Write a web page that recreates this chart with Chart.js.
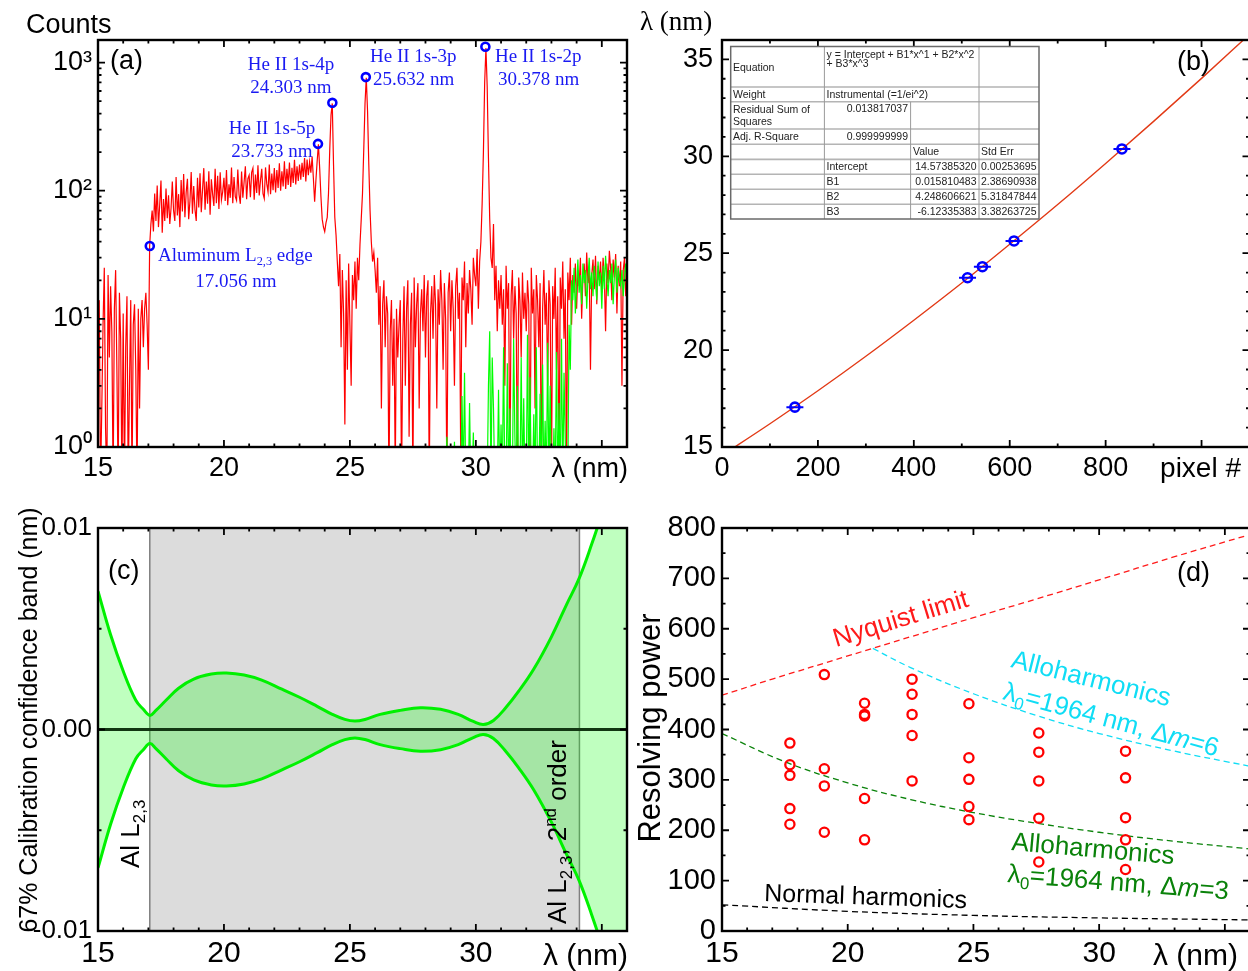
<!DOCTYPE html>
<html>
<head>
<meta charset="utf-8">
<title>Spectrometer calibration</title>
<script src="https://cdn.jsdelivr.net/npm/chart.js@4.4.1/dist/chart.umd.min.js"></script>
<style>
  html, body { margin: 0; padding: 0; background: #fff; }
  body { position: relative; width: 1248px; height: 971px; overflow: hidden; }
  canvas { position: absolute; }
</style>
</head>
<body>
<canvas id="chart-a" width="640" height="495" style="left:0;top:0"></canvas>
<canvas id="chart-b" width="630" height="495" style="left:630px;top:0"></canvas>
<canvas id="chart-c" width="640" height="476" style="left:0;top:495px"></canvas>
<canvas id="chart-d" width="630" height="476" style="left:630px;top:495px"></canvas>
<script>
/* ─── data: (a) spectrum ─── */
const specLambda0 = 15;      // nm, first sample
const specStep = 0.05;       // nm per sample
const redCounts = [
  3, 14, 0.5, 2, 9, 25, 1.4, 0.5, 22, 5, 18, 8, 0.5, 12, 24, 4, 0.5, 16, 7, 0.5,
  11, 0.5, 6, 15, 0.5, 3, 14, 0.5, 9, 13, 4, 0.5, 12, 2, 10, 14, 6, 12, 16, 9,
  4, 37, 55, 70, 48, 95, 58, 110, 52, 78, 120, 47, 86, 58, 104, 61, 92, 55, 73, 118,
  70, 58, 128, 64, 94, 52, 121, 69, 135, 62, 97, 124, 60, 83, 140, 66, 109, 71, 58, 126,
  74, 137, 68, 102, 150, 71, 118, 79, 142, 65, 123, 94, 76, 148, 80, 131, 72, 139, 85, 98,
  126, 83, 145, 77, 112, 88, 152, 80, 128, 90, 84, 146, 93, 79, 141, 88, 117, 155, 86, 124,
  132, 89, 139, 150, 85, 134, 96, 158, 92, 120, 148, 95, 87, 152, 113, 98, 160, 94, 136, 101,
  150, 97, 145, 105, 164, 100, 142, 108, 170, 103, 148, 111, 166, 107, 151, 115, 174, 112, 155, 119,
  160, 122, 165, 128, 180, 118, 175, 132, 168, 138, 185, 125, 82, 120, 170, 230, 150, 90, 60, 52,
  48, 56, 62, 95, 210, 390, 480, 160, 62, 45, 28, 18, 32, 6, 24, 11, 1.5, 20, 4, 27,
  9, 3, 22, 14, 28, 12, 30, 20, 38, 60, 95, 210, 480, 760, 420, 160, 70, 40, 28, 33,
  24, 16, 30, 9, 18, 2, 13, 20, 6, 15, 11, 0.5, 8, 14, 3, 10, 0.6, 12, 5, 9,
  14, 0.5, 7, 18, 3, 12, 20, 1.2, 9, 16, 0.5, 21, 6, 13, 19, 2, 11, 17, 8, 22,
  5, 15, 20, 0.5, 11, 18, 7, 22, 13, 2, 17, 9, 24, 14, 4, 19, 10, 0.5, 16, 23,
  8, 20, 12, 3, 18, 25, 10, 16, 0.8, 21, 14, 28, 6, 19, 11, 24, 17, 9, 30, 22,
  18, 35, 12, 28, 40, 80, 200, 700, 1300, 650, 180, 60, 30, 25, 55, 14, 26, 8, 20, 12,
  22, 9, 17, 3, 26, 12, 19, 0.5, 15, 24, 7, 18, 11, 0.5, 21, 14, 5, 23, 10, 16,
  8, 20, 13, 0.5, 25, 11, 17, 2, 22, 14, 6, 19, 0.5, 12, 24, 9, 16, 3, 20, 13,
  0.5, 18, 10, 25, 4, 15, 0.5, 21, 12, 28, 7, 17, 0.5, 23, 14, 30, 9, 22, 16, 27,
  12, 24, 18, 30, 10, 21, 27, 15, 33, 19, 25, 4, 22, 29, 17, 31, 13, 26, 20, 28,
  16, 30, 22, 8, 27, 19, 34, 25, 14, 29, 21, 32, 11, 26, 18, 28, 3, 24, 30, 15,
  22,
];
const greenLambda0 = 28.8;
const greenCounts = [
  0.5, 1.2, 0.5, 0.5, 0.8, 0.5, 0.5, 1.1, 0.5, 0.5, 0.5, 0.7, 0.5, 2.5, 0.5, 3.8, 0.5, 1.0, 0.5, 2.2,
  0.5, 0.5, 1.3, 0.5, 0.5, 0.5, 0.6, 0.5, 0.5, 0.5, 0.5, 0.5, 0.5, 0.5, 3.0, 8, 0.5, 5, 2, 0.5,
  0.5, 0.5, 2.8, 0.5, 1.5, 0.5, 6, 0.5, 0.5, 4.5, 0.5, 2, 0.5, 0.5, 7, 1.2, 0.5, 3, 0.5, 0.5,
  5, 0.5, 2.4, 0.5, 0.5, 7.5, 0.5, 3.5, 0.5, 0.5, 1.8, 0.5, 6, 0.5, 0.5, 2.6, 0.5, 4.4, 0.5, 1.6,
  0.5, 6.5, 0.5, 3, 0.5, 0.5, 1.4, 0.5, 5.5, 0.5, 2.2, 0.5, 7, 0.5, 3.8, 1.1, 0.5, 0.5, 9, 4,
  20, 14, 25, 11, 18, 29, 16, 22, 13, 27, 19, 24, 12, 21, 30, 17, 23, 15, 26, 20,
  14, 28, 18, 23, 12, 26, 17, 31, 21, 15, 24, 19, 27, 13, 22, 29, 16, 25, 20, 18,
  24, 15, 21, 27, 19,
];
const lineLambda = [17.056, 23.733, 24.303, 25.632, 30.378];
const lineCounts = [37, 232, 485, 770, 1330];
const aXTicks = [15, 20, 25, 30];
const aYTicks = [1, 10, 100, 1000];

/* ─── data: (b) calibration ─── */
const calPixel = [152, 512, 543, 609, 834];
const calLambda = [17.056, 23.733, 24.303, 25.632, 30.378];
const fitPixel = [0, 100, 200, 300, 400, 500, 600, 700, 800, 900, 1000, 1100];
const fitLambda = [14.57, 16.20, 17.90, 19.68, 21.54, 23.46, 25.46, 27.51, 29.63, 31.80, 34.02, 36.29];
const bXTicks = [0, 200, 400, 600, 800];
const bYTicks = [15, 20, 25, 30, 35];

/* ─── data: (c) confidence band ─── */
const bandLambda = [15, 15.5, 16, 16.5, 16.8, 17.06, 17.3, 17.7, 18.2, 18.8, 19.5, 20.1, 20.8, 21.5, 22.3, 23, 23.7,
  24.3, 24.8, 25.2, 25.6, 26.2, 27, 27.8, 28.6, 29.3, 29.9, 30.3, 30.7, 31.2, 31.7, 32.3, 33, 33.6, 34.1, 34.6, 35, 35.5, 36];
const bandUpper = [0.00687, 0.0047, 0.0029, 0.00145, 0.001, 0.0007, 0.00095, 0.00145, 0.00205, 0.0025, 0.00275, 0.0028,
  0.0027, 0.00245, 0.002, 0.0016, 0.00115, 0.00075, 0.0005, 0.00042, 0.0005, 0.00075, 0.00095, 0.00108, 0.001, 0.00075,
  0.0004, 0.00025, 0.00045, 0.0011, 0.0019, 0.003, 0.0046, 0.0062, 0.0075, 0.0092, 0.0107, 0.0127, 0.0148];
const bandLower = [-0.00687, -0.0047, -0.0029, -0.00145, -0.001, -0.0007, -0.00095, -0.00145, -0.00205, -0.0025, -0.00275, -0.0028,
  -0.0027, -0.00245, -0.002, -0.0016, -0.00115, -0.00075, -0.0005, -0.00042, -0.0005, -0.00075, -0.00095, -0.00108, -0.001, -0.00075,
  -0.0004, -0.00025, -0.00045, -0.0011, -0.0019, -0.003, -0.0046, -0.0062, -0.0075, -0.0092, -0.0107, -0.0127, -0.0148];
const zeroLambda = [15, 36];
const zeroValue = [0, 0];
const alEdge = 17.056;
const alEdge2nd = 34.112;
const cYTicks = [-0.01, 0, 0.01];

/* ─── data: (d) resolving power ─── */
const rpLambda = [17.7, 17.7, 17.7, 17.7, 17.7, 19.07, 19.07, 19.07, 19.07, 20.67, 20.67, 20.67, 20.67, 20.67,
  22.56, 22.56, 22.56, 22.56, 22.56, 24.82, 24.82, 24.82, 24.82, 24.82, 27.6, 27.6, 27.6, 27.6, 27.6,
  31.05, 31.05, 31.05, 31.05, 31.05];
const rpValue = [373, 330, 309, 243, 212, 509, 322, 288, 196, 452, 430, 427, 263, 181,
  500, 470, 430, 388, 298, 451, 344, 301, 247, 221, 393, 355, 298, 224, 137,
  357, 304, 225, 181, 122];
const nyqLambda = [15, 17, 20, 22.5, 25, 27.5, 30, 33, 36];
const nyqR = [468, 500, 546, 584, 622, 659, 697, 743, 787];
const allo6Lambda = [21, 22.5, 25, 27.5, 30, 33, 36];
const allo6R = [561, 523, 471, 428, 392, 357, 327];
const allo3Lambda = [15, 17.5, 20, 22.5, 25, 27.5, 30, 33, 36];
const allo3R = [392, 336, 294, 261, 235, 214, 196, 178, 163];
const normLambda = [15, 20, 25, 30, 36];
const normR = [52, 39, 31, 26, 22];
const dXTicks = [15, 20, 25, 30];
const dYTicks = [0, 100, 200, 300, 400, 500, 600, 700, 800];

/* ─── styling ─── */
const SANS = "'Liberation Sans', Arial, Helvetica, sans-serif";
const SERIF = "'Liberation Serif', 'Times New Roman', serif";
const BLUE = '#0000FF';
const LABEL_BLUE = '#1a1af2';
const CYAN = '#10DDF5';
const DKGREEN = '#0A820A';
const SUP = ['\u2070', '\u00B9', '\u00B2', '\u00B3'];

Chart.defaults.font.family = SANS;
Chart.defaults.font.size = 27;
Chart.defaults.color = '#000';
Chart.defaults.animation = false;
Chart.defaults.plugins.legend.display = false;
Chart.defaults.plugins.tooltip.enabled = false;

const range = (a, b, s) => {
  const out = [];
  for (let v = a; v <= b + 1e-9; v += s) out.push(+v.toFixed(6));
  return out;
};
const pts = (xs, ys) => xs.map((x, i) => ({ x, y: ys[i] }));

function xAxis(min, max, labels, height, pad, size, fmt) {
  return {
    type: 'linear', min, max,
    grid: { display: false, drawTicks: false }, border: { display: false },
    ticks: { padding: pad, maxRotation: 0, autoSkip: false, font: { size }, callback: fmt || (v => String(v)) },
    afterBuildTicks: s => { s.ticks = labels.map(value => ({ value })); },
    afterFit: s => { s.height = height; },
  };
}
function yAxis(type, min, max, labels, width, pad, size, fmt) {
  return {
    type, min, max,
    grid: { display: false, drawTicks: false }, border: { display: false },
    ticks: { padding: pad, autoSkip: false, font: { size }, callback: fmt || (v => String(v)) },
    afterBuildTicks: s => { s.ticks = labels.map(value => ({ value })); },
    afterFit: s => { s.width = width; },
  };
}

/* frame with inward ticks on all four sides */
function makeFrame(o) {
  return {
    id: 'frame',
    afterDatasetsDraw(chart) {
      const { ctx, chartArea: a, scales: { x, y } } = chart;
      ctx.save();
      ctx.strokeStyle = '#000';
      ctx.lineWidth = 1.8;
      ctx.beginPath();
      for (const [vals, len] of [[o.xMajor, 7], [o.xMinor, 3.5]]) {
        for (const v of vals) {
          const px = x.getPixelForValue(v);
          if (px < a.left - 0.5 || px > a.right + 0.5) continue;
          ctx.moveTo(px, a.bottom); ctx.lineTo(px, a.bottom - len);
          ctx.moveTo(px, a.top); ctx.lineTo(px, a.top + len);
        }
      }
      for (const [vals, len] of [[o.yMajor, 7], [o.yMinor, 3.5]]) {
        for (const v of vals) {
          const py = y.getPixelForValue(v);
          if (py < a.top - 0.5 || py > a.bottom + 0.5) continue;
          ctx.moveTo(a.left, py); ctx.lineTo(a.left + len, py);
          ctx.moveTo(a.right, py); ctx.lineTo(a.right - len, py);
        }
      }
      ctx.stroke();
      ctx.lineWidth = 2.4;
      ctx.strokeRect(a.left, a.top, a.width, a.height);
      ctx.restore();
    },
  };
}

/* text with sub/sup/italic parts, page coordinates */
function drawRich(ctx, it) {
  ctx.save();
  ctx.translate(it.x, it.y);
  if (it.r) ctx.rotate(it.r * Math.PI / 180);
  ctx.fillStyle = it.c || '#000';
  ctx.textBaseline = 'alphabetic';
  ctx.textAlign = 'left';
  const fam = it.f || SANS;
  const segs = it.p.map(p => {
    const [s, m] = typeof p === 'string' ? [p, ''] : p;
    const sz = (m === 'sub' || m === 'sup') ? it.s * 0.65 : it.s;
    const font = (m === 'i' ? 'italic ' : '') + sz + 'px ' + fam;
    ctx.font = font;
    const dy = m === 'sub' ? it.s * 0.22 : m === 'sup' ? -it.s * 0.38 : 0;
    return { s, font, dy, w: ctx.measureText(s).width };
  });
  const total = segs.reduce((acc, g) => acc + g.w, 0);
  let cx = it.a === 'center' ? -total / 2 : it.a === 'right' ? -total : 0;
  for (const g of segs) {
    ctx.font = g.font;
    ctx.fillText(g.s, cx, g.dy);
    cx += g.w;
  }
  ctx.restore();
}
function makeText(items, ox, oy) {
  return {
    id: 'texts',
    afterDraw(chart) {
      const ctx = chart.ctx;
      ctx.save();
      ctx.translate(-ox, -oy);
      items.forEach(it => drawRich(ctx, it));
      ctx.restore();
    },
  };
}

/* ─── (a) Counts vs wavelength ─── */
const redData = redCounts.map((c, i) => ({ x: specLambda0 + i * specStep, y: c }));
const greenData = greenCounts.map((c, i) => ({ x: greenLambda0 + i * specStep, y: c }));

new Chart(document.getElementById('chart-a'), {
  type: 'line',
  data: {
    datasets: [
      { data: pts(lineLambda, lineCounts), showLine: false, pointRadius: 4, pointBorderWidth: 2.6,
        pointBorderColor: BLUE, pointBackgroundColor: 'rgba(0,0,0,0)', order: 0 },
      { data: greenData, borderColor: '#00FF00', borderWidth: 1.2, pointRadius: 0, order: 1 },
      { data: redData, borderColor: '#FF0000', borderWidth: 1.2, pointRadius: 0, order: 2 },
    ],
  },
  options: {
    responsive: false,
    layout: { padding: { top: 40, right: 13, left: 0, bottom: 0 } },
    scales: {
      x: xAxis(15, 36, aXTicks, 48, 5, 27),
      y: yAxis('logarithmic', 1, 1500, aYTicks, 98, 6, 27, v => '10' + SUP[Math.round(Math.log10(v))]),
    },
  },
  plugins: [
    makeFrame({
      xMajor: [15, 20, 25, 30, 35], xMinor: range(16, 36, 1),
      yMajor: aYTicks, yMinor: [2, 3, 4, 5, 6, 7, 8, 9, 20, 30, 40, 50, 60, 70, 80, 90, 200, 300, 400, 500, 600, 700, 800, 900],
    }),
    makeText([
      { p: ['Counts'], x: 26, y: 33, s: 27 },
      { p: ['(a)'], x: 110, y: 69, s: 27 },
      { p: ['\u03bb (nm)'], x: 628, y: 477, s: 27, a: 'right' },
      { p: ['He II 1s-4p'], x: 291, y: 70, s: 19, f: SERIF, c: LABEL_BLUE, a: 'center' },
      { p: ['24.303 nm'], x: 291, y: 93, s: 19, f: SERIF, c: LABEL_BLUE, a: 'center' },
      { p: ['He II 1s-5p'], x: 272, y: 134, s: 19, f: SERIF, c: LABEL_BLUE, a: 'center' },
      { p: ['23.733 nm'], x: 272, y: 157, s: 19, f: SERIF, c: LABEL_BLUE, a: 'center' },
      { p: ['He II 1s-3p'], x: 370, y: 62, s: 19, f: SERIF, c: LABEL_BLUE },
      { p: ['25.632 nm'], x: 373, y: 85, s: 19, f: SERIF, c: LABEL_BLUE },
      { p: ['He II 1s-2p'], x: 495, y: 62, s: 19, f: SERIF, c: LABEL_BLUE },
      { p: ['30.378 nm'], x: 498, y: 85, s: 19, f: SERIF, c: LABEL_BLUE },
      { p: ['Aluminum L', ['2,3', 'sub'], ' edge'], x: 158, y: 261, s: 19, f: SERIF, c: LABEL_BLUE },
      { p: ['17.056 nm'], x: 236, y: 287, s: 19, f: SERIF, c: LABEL_BLUE, a: 'center' },
    ], 0, 0),
  ],
});

/* ─── (b) wavelength vs pixel ─── */
const tableItems = [
  ['Equation', 733, 70.5, 'left'],
  ['y = Intercept + B1*x^1 + B2*x^2', 826.5, 57.5, 'left'],
  ['+ B3*x^3', 826.5, 67, 'left'],
  ['Weight', 733, 98, 'left'],
  ['Instrumental (=1/ei^2)', 826.5, 98, 'left'],
  ['Residual Sum of', 733, 113, 'left'],
  ['Squares', 733, 125, 'left'],
  ['0.013817037', 908, 111.5, 'right'],
  ['Adj. R-Square', 733, 140, 'left'],
  ['0.999999999', 908, 140, 'right'],
  ['Value', 913, 154.5, 'left'],
  ['Std Err', 981, 154.5, 'left'],
  ['Intercept', 826.5, 169.5, 'left'],
  ['14.57385320', 976.5, 169.5, 'right'],
  ['0.00253695', 1036.5, 169.5, 'right'],
  ['B1', 826.5, 184.5, 'left'],
  ['0.015810483', 976.5, 184.5, 'right'],
  ['2.38690938', 1036.5, 184.5, 'right'],
  ['B2', 826.5, 199.5, 'left'],
  ['4.248606621', 976.5, 199.5, 'right'],
  ['5.31847844', 1036.5, 199.5, 'right'],
  ['B3', 826.5, 214.5, 'left'],
  ['-6.12335383', 976.5, 214.5, 'right'],
  ['3.38263725', 1036.5, 214.5, 'right'],
];
const fitTable = {
  id: 'fitTable',
  afterDraw(chart) {
    const ctx = chart.ctx;
    const ox = 630;
    const cols = [730.7, 824.4, 910.6, 979, 1039];
    const rows = [46.5, 87, 101.8, 129, 144.2, 159.4, 174.2, 189.3, 204.2, 219];
    ctx.save();
    ctx.translate(-ox, 0);
    ctx.fillStyle = '#fff';
    ctx.fillRect(cols[0], rows[0], cols[4] - cols[0], rows[9] - rows[0]);
    ctx.strokeStyle = '#b4b4b4';
    ctx.lineWidth = 1.6;
    ctx.beginPath();
    rows.slice(1, -1).forEach(r => { ctx.moveTo(cols[0], r); ctx.lineTo(cols[4], r); });
    ctx.stroke();
    ctx.strokeStyle = '#9a9a9a';
    ctx.lineWidth = 1;
    ctx.beginPath();
    ctx.moveTo(cols[1], rows[0]); ctx.lineTo(cols[1], rows[9]);
    ctx.moveTo(cols[2], rows[2]); ctx.lineTo(cols[2], rows[9]);
    ctx.moveTo(cols[3], rows[0]); ctx.lineTo(cols[3], rows[9]);
    ctx.stroke();
    ctx.strokeStyle = '#6a6a6a';
    ctx.lineWidth = 1.5;
    ctx.strokeRect(cols[0], rows[0], cols[4] - cols[0], rows[9] - rows[0]);
    ctx.fillStyle = '#222';
    ctx.font = '10.5px ' + SANS;
    ctx.textBaseline = 'alphabetic';
    tableItems.forEach(([t, x, y, al]) => { ctx.textAlign = al; ctx.fillText(t, x, y); });
    ctx.restore();
  },
};

new Chart(document.getElementById('chart-b'), {
  type: 'line',
  data: {
    datasets: [
      { data: pts(calPixel, calLambda), showLine: false, pointStyle: 'line', pointRadius: 8.5,
        pointBorderWidth: 2, pointBorderColor: BLUE, order: 0 },
      { data: pts(calPixel, calLambda), showLine: false, pointRadius: 4.5, pointBorderWidth: 2.6,
        pointBorderColor: BLUE, pointBackgroundColor: 'rgba(0,0,0,0)', order: 1 },
      { data: pts(fitPixel, fitLambda), borderColor: '#E23A16', borderWidth: 1.4, pointRadius: 0,
        cubicInterpolationMode: 'monotone', order: 2 },
    ],
  },
  options: {
    responsive: false,
    layout: { padding: { top: 40, right: 10, left: 0, bottom: 0 } },
    scales: {
      x: xAxis(0, 1100, bXTicks, 48, 5, 27),
      y: yAxis('linear', 15, 36, bYTicks, 92, 9, 27),
    },
  },
  plugins: [
    makeFrame({ xMajor: range(0, 1000, 200), xMinor: range(100, 1100, 200), yMajor: bYTicks, yMinor: range(16, 36, 1) }),
    makeText([
      { p: ['\u03bb (nm)'], x: 640, y: 30, s: 27, f: SERIF },
      { p: ['(b)'], x: 1177, y: 70, s: 27 },
      { p: ['pixel #'], x: 1241, y: 477, s: 28, a: 'right' },
    ], 630, 0),
    fitTable,
  ],
});

/* ─── (c) calibration confidence band ─── */
const greyBand = {
  id: 'greyBand',
  beforeDatasetsDraw(chart) {
    const { ctx, chartArea: a, scales: { x } } = chart;
    const x1 = x.getPixelForValue(alEdge);
    const x2 = x.getPixelForValue(alEdge2nd);
    ctx.save();
    ctx.fillStyle = '#DCDCDC';
    ctx.fillRect(x1, a.top, x2 - x1, a.height);
    ctx.strokeStyle = '#808080';
    ctx.lineWidth = 1.5;
    ctx.beginPath();
    ctx.moveTo(x1, a.top); ctx.lineTo(x1, a.bottom);
    ctx.moveTo(x2, a.top); ctx.lineTo(x2, a.bottom);
    ctx.stroke();
    ctx.restore();
  },
};

new Chart(document.getElementById('chart-c'), {
  type: 'line',
  data: {
    datasets: [
      { data: pts(bandLambda, bandUpper), borderColor: '#00F000', borderWidth: 3, pointRadius: 0, tension: 0.4,
        fill: '+1', backgroundColor: 'rgba(0,255,0,0.25)', order: 1 },
      { data: pts(bandLambda, bandLower), borderColor: '#00F000', borderWidth: 3, pointRadius: 0, tension: 0.4,
        fill: false, order: 2 },
      { data: pts(zeroLambda, zeroValue), borderColor: '#123612', borderWidth: 3, pointRadius: 0, order: 0 },
    ],
  },
  options: {
    responsive: false,
    layout: { padding: { top: 33, right: 13, left: 0, bottom: 0 } },
    scales: {
      x: xAxis(15, 36, aXTicks, 40, 5, 30),
      y: yAxis('linear', -0.01, 0.01, cYTicks, 98, 6, 26, v => v.toFixed(2)),
    },
  },
  plugins: [
    greyBand,
    makeFrame({ xMajor: [15, 20, 25, 30, 35], xMinor: range(16, 36, 1), yMajor: cYTicks, yMinor: [-0.005, 0.005] }),
    makeText([
      { p: ['(c)'], x: 108, y: 579, s: 27 },
      { p: ['67% Calibration confidence band (nm)'], x: 37, y: 720, s: 25, a: 'center', r: -90 },
      { p: ['Al L', ['2,3', 'sub']], x: 139, y: 868, s: 26, r: -90 },
      { p: ['Al L', ['2,3', 'sub'], ', 2', ['nd', 'sup'], ' order'], x: 566, y: 924, s: 26, r: -90 },
      { p: ['\u03bb (nm)'], x: 628, y: 965, s: 30, a: 'right' },
    ], 0, 495),
  ],
});

/* ─── (d) resolving power ─── */
const dashed = (data, color) => ({
  data, borderColor: color, borderWidth: 1.3, borderDash: [6, 4], pointRadius: 0, tension: 0.4, order: 1,
});

new Chart(document.getElementById('chart-d'), {
  type: 'line',
  data: {
    datasets: [
      { data: pts(rpLambda, rpValue), showLine: false, pointRadius: 4.6, pointBorderWidth: 2.3,
        pointBorderColor: '#FF0000', pointBackgroundColor: 'rgba(0,0,0,0)', order: 0 },
      dashed(pts(nyqLambda, nyqR), '#FF1A1A'),
      dashed(pts(allo6Lambda, allo6R), CYAN),
      dashed(pts(allo3Lambda, allo3R), DKGREEN),
      dashed(pts(normLambda, normR), '#000000'),
    ],
  },
  options: {
    responsive: false,
    layout: { padding: { top: 33, right: 10, left: 0, bottom: 0 } },
    scales: {
      x: xAxis(15, 36, dXTicks, 40, 5, 30),
      y: yAxis('linear', 0, 800, dYTicks, 92, 6, 29),
    },
  },
  plugins: [
    makeFrame({ xMajor: [15, 20, 25, 30, 35], xMinor: range(16, 36, 1), yMajor: dYTicks, yMinor: range(50, 750, 100) }),
    makeText([
      { p: ['(d)'], x: 1177, y: 581, s: 27 },
      { p: ['Resolving power'], x: 660, y: 728, s: 31, a: 'center', r: -90 },
      { p: ['Nyquist limit'], x: 836, y: 647, s: 26, c: '#FF1A1A', r: -17 },
      { p: ['Alloharmonics'], x: 1010, y: 667, s: 26, c: CYAN, r: 14 },
      { p: ['\u03bb', ['0', 'sub'], '=1964 nm, \u0394', ['m', 'i'], '=6'], x: 1002, y: 699, s: 26, c: CYAN, r: 15 },
      { p: ['Alloharmonics'], x: 1011, y: 850, s: 26, c: DKGREEN, r: 5 },
      { p: ['\u03bb', ['0', 'sub'], '=1964 nm, \u0394', ['m', 'i'], '=3'], x: 1007, y: 882, s: 26, c: DKGREEN, r: 4.5 },
      { p: ['Normal harmonics'], x: 764, y: 901, s: 25, r: 2 },
      { p: ['\u03bb (nm)'], x: 1238, y: 965, s: 30, a: 'right' },
    ], 630, 495),
  ],
});
</script>
</body>
</html>
